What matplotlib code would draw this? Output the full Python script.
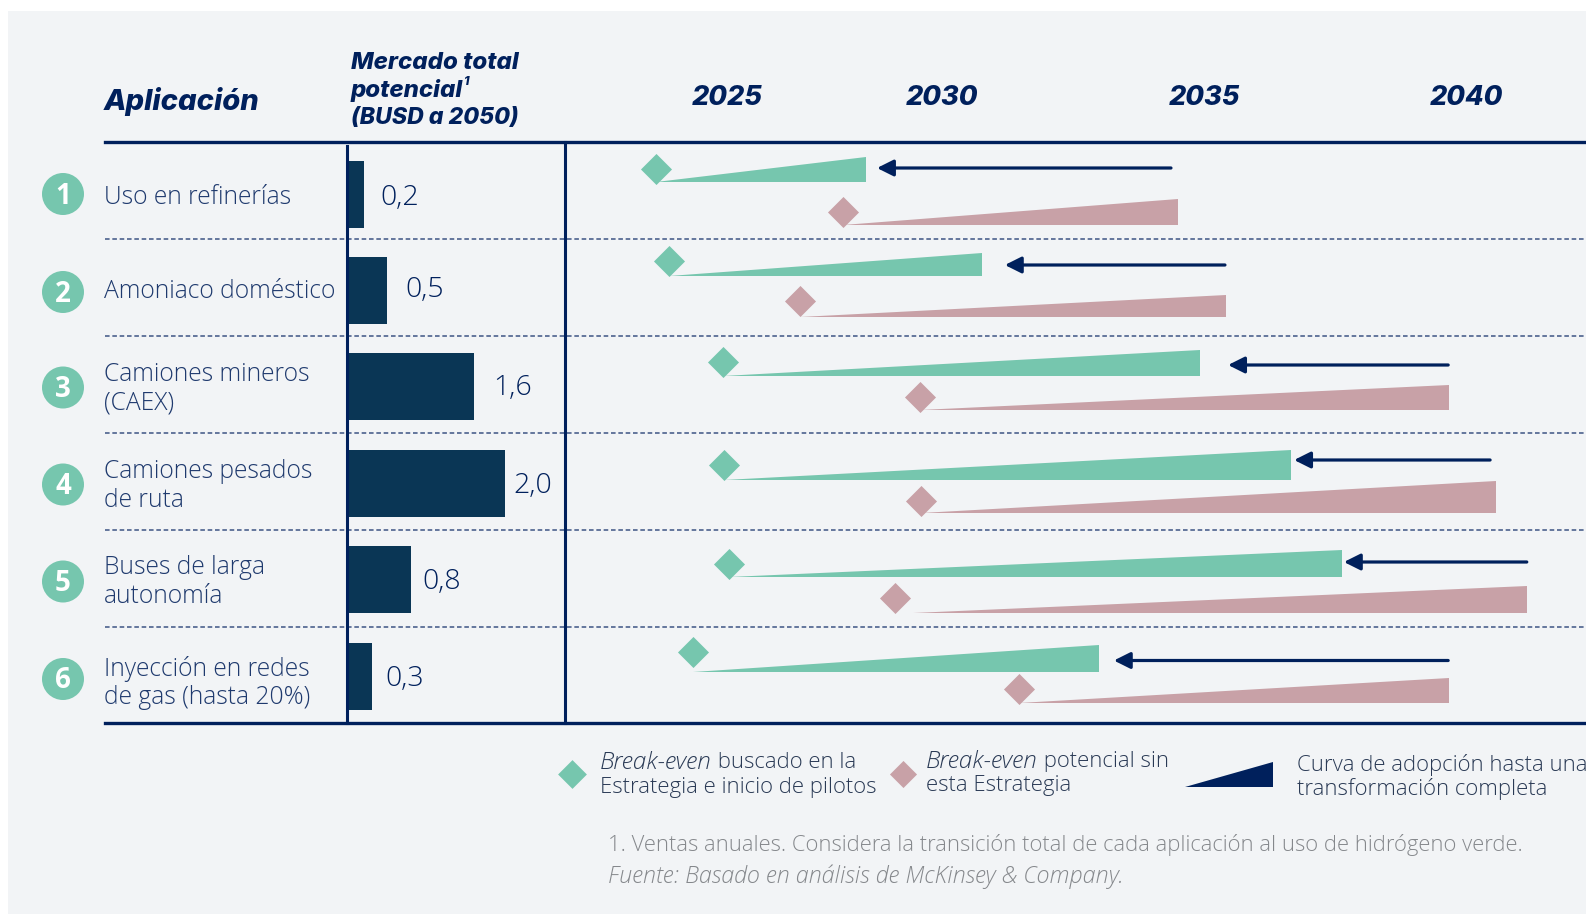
import matplotlib
matplotlib.use("Agg")
import matplotlib.pyplot as plt
from matplotlib.patches import Rectangle, Circle

plt.rcParams['font.family'] = ['Open Sans', 'DejaVu Sans']
HEAD_FONT = ['Inter', 'Open Sans', 'DejaVu Sans']

# Data
applications = ["Uso en refinerías", "Amoniaco doméstico", "Camiones mineros\n(CAEX)",
                "Camiones pesados\nde ruta", "Buses de larga\nautonomía", "Inyección en redes\nde gas (hasta 20%)"]
market_values = [0.2, 0.5, 1.6, 2.0, 0.8, 0.3]
market_labels = ["0,2", "0,5", "1,6", "2,0", "0,8", "0,3"]

year_ticks = [2025.9, 2030, 2035, 2040]
year_labels = ["2025", "2030", "2035", "2040"]

green_break_even = [2024.54, 2024.79, 2025.83, 2025.84, 2025.94, 2025.25]
green_end = [2028.55, 2030.76, 2034.92, 2036.66, 2037.63, 2032.99]
pink_break_even = [2028.11, 2027.29, 2029.58, 2029.59, 2029.10, 2031.47]
pink_start = [2028.11, 2027.29, 2029.58, 2029.59, 2029.45, 2031.47]
pink_end = [2034.50, 2035.42, 2039.68, 2040.57, 2041.17, 2039.68]
arrow_from = [2034.37, 2035.40, 2039.66, 2040.46, 2041.16, 2039.66]
arrow_to = [2028.76, 2031.20, 2035.46, 2036.72, 2037.67, 2033.28]

# Vertical layout in pixels
bar_y = [194, 290, 386, 483, 579, 676]
circle_y = [194, 292, 387.5, 484.5, 581.5, 679]
label_y = [197, 292, 389, 486, 582, 683]
value_y = [198, 290, 388, 486, 582, 679]
value_offset = [12, 13, 14, 6, 8, 10]
green_d_y = [169, 261, 362, 465, 564, 652]
green_bottom = [182, 276, 376, 480, 577, 672]
green_top = [157, 253, 350, 450, 550, 645]
pink_d_y = [212, 301, 397, 501, 598, 689]
pink_bottom = [225, 317, 410, 513, 613, 703]
pink_top = [199, 295, 385, 481, 586, 678]
arrow_y = [168, 265, 365, 460, 562, 660.5]
dash_y = [239, 336, 433, 530, 627]

W, H = 1586, 914
NAVY = "#00205c"
BAR = "#0a3655"
GREEN = "#76c6ae"
PINK = "#c8a1a7"
BG = "#f2f4f6"
GREY = "#85888c"
TXT = "#1f3a6e"
LEG_TXT = "#2a3a55"


def axes_px(x0, x1, y0, y1):
    return fig.add_axes([x0 / W, 1 - y1 / H, (x1 - x0) / W, (y1 - y0) / H])


fig = plt.figure(figsize=(W / 100, H / 100), dpi=100, facecolor="white")

# Page layer: background, rules, row labels, legend, notes
page = axes_px(0, W, 0, H)
page.set_xlim(0, W)
page.set_ylim(H, 0)
page.axis("off")
page.add_patch(Rectangle((8, 11), W - 8, H - 11, color=BG, lw=0, zorder=0))

for y in dash_y:
    page.plot([105, W], [y, y], color="#3d5484", lw=1.1, ls=(0, (3, 1.8)), zorder=1)
page.plot([105, W], [142, 142], color=NAVY, lw=2.4, zorder=3)
page.plot([105, W], [723, 723], color=NAVY, lw=2.4, zorder=3)
page.plot([565, 565], [142, 723], color=NAVY, lw=2.2, zorder=3)

head = dict(family=HEAD_FONT, fontweight="heavy", style="italic", color=NAVY, va="center")
page.text(104, 101, "Aplicación", fontsize=21, **head)
page.text(351, 63, "Mercado total", fontsize=17.3, **head)
head2 = page.text(351, 90, "potencial", fontsize=17.3, **head)
page.annotate("1", xy=(1, 0.6), xycoords=head2, fontsize=9, family=HEAD_FONT, fontweight="heavy", style="italic",
              color=NAVY, va="bottom")
page.text(351, 118, "(BUSD a 2050)", fontsize=16.6, **head)

for i, name in enumerate(applications):
    page.add_patch(Circle((63, circle_y[i]), 21, color=GREEN, lw=0, zorder=2))
    page.text(63, circle_y[i] + 2, str(i + 1), fontsize=20, fontweight="bold", color="white",
              ha="center", va="center", zorder=3)
    page.text(104, label_y[i], name, fontsize=17.7, fontweight="light", color=TXT, va="center", linespacing=1.16)

# Market bars
ax_bar = axes_px(348, 560, 143, 723)
ax_bar.set_xlim(0, 212 / 78.5)
ax_bar.set_ylim(723, 143)
ax_bar.axis("off")
ax_bar.patch.set_alpha(0)
ax_bar.barh(bar_y, market_values, height=67, color=BAR, zorder=2)
for i, v in enumerate(market_values):
    ax_bar.annotate(market_labels[i], xy=(v, value_y[i]), xytext=(value_offset[i], 0), textcoords="offset points",
                    fontsize=20.5, color=NAVY, va="center", fontweight="light")
page_top = axes_px(0, W, 0, H)
page_top.set_xlim(0, W)
page_top.set_ylim(H, 0)
page_top.axis("off")
page_top.patch.set_alpha(0)
page_top.plot([347, 347], [146, 723], color=NAVY, lw=2.2)

# Timeline: 52.4 px per year, 2040 at x=1466
ax_time = axes_px(566, W, 142, 723)
ax_time.set_xlim(2040 + (566 - 1466) / 52.4, 2040 + (W - 1466) / 52.4)
ax_time.set_ylim(723, 142)
ax_time.patch.set_alpha(0)
for s in ax_time.spines.values():
    s.set_visible(False)
ax_time.set_yticks([])
ax_time.set_xticks(year_ticks)
ax_time.set_xticklabels(year_labels, fontsize=19.5, family=HEAD_FONT, fontweight="heavy", style="italic", color=NAVY)
ax_time.tick_params(axis="x", bottom=False, top=False, labelbottom=False, labeltop=True, pad=18.5)

for i in range(len(applications)):
    ax_time.fill([green_break_even[i], green_end[i], green_end[i]],
                 [green_bottom[i], green_bottom[i], green_top[i]], color=GREEN, lw=0, zorder=2)
    ax_time.fill([pink_start[i], pink_end[i], pink_end[i]],
                 [pink_bottom[i], pink_bottom[i], pink_top[i]], color=PINK, lw=0, zorder=2)
    ax_time.scatter(green_break_even[i], green_d_y[i], marker="D", s=250, color=GREEN, lw=0, zorder=3)
    ax_time.scatter(pink_break_even[i], pink_d_y[i], marker="D", s=250, color=PINK, lw=0, zorder=3)
    ax_time.annotate("", xy=(arrow_to[i], arrow_y[i]), xytext=(arrow_from[i], arrow_y[i]),
                     arrowprops=dict(arrowstyle="-|>,head_length=0.9,head_width=0.45", color=NAVY, lw=2.3,
                                     shrinkA=0, shrinkB=0, mutation_scale=11))

# Legend
page.scatter([571.5], [774], marker="D", s=215, color=GREEN, lw=0, zorder=3)
page.scatter([903], [774], marker="D", s=190, color=PINK, lw=0, zorder=3)
page.fill([1185, 1273, 1273], [787, 787, 762], color=NAVY, lw=0, zorder=3)

LEG = 15.9
leg = dict(fontsize=LEG, fontweight="light", color=LEG_TXT, va="center")
leg_it = dict(fontsize=17.6, fontweight="light", style="italic", color=LEG_TXT, va="center")
t = page.text(600, 763, "Break-even", **leg_it)
page.annotate(" buscado en la", xy=(1, 0.5), xycoords=t, **leg)
page.text(600, 787, "Estrategia e inicio de pilotos", **leg)
t = page.text(926, 762, "Break-even", **leg_it)
page.annotate(" potencial sin", xy=(1, 0.5), xycoords=t, **leg)
page.text(926, 786, "esta Estrategia", **leg)
page.text(1297, 765, "Curva de adopción hasta una", **leg)
page.text(1297, 789, "transformación completa", **leg)

page.text(608, 845, "1. Ventas anuales. Considera la transición total de cada aplicación al uso de hidrógeno verde.",
          fontsize=15.8, fontweight="light", color=GREY, va="center")
page.text(608, 877, "Fuente: Basado en análisis de McKinsey & Company.", fontsize=16.8, fontweight="light",
          style="italic", color=GREY, va="center")

fig.savefig("out.png", dpi=100, facecolor="white")
